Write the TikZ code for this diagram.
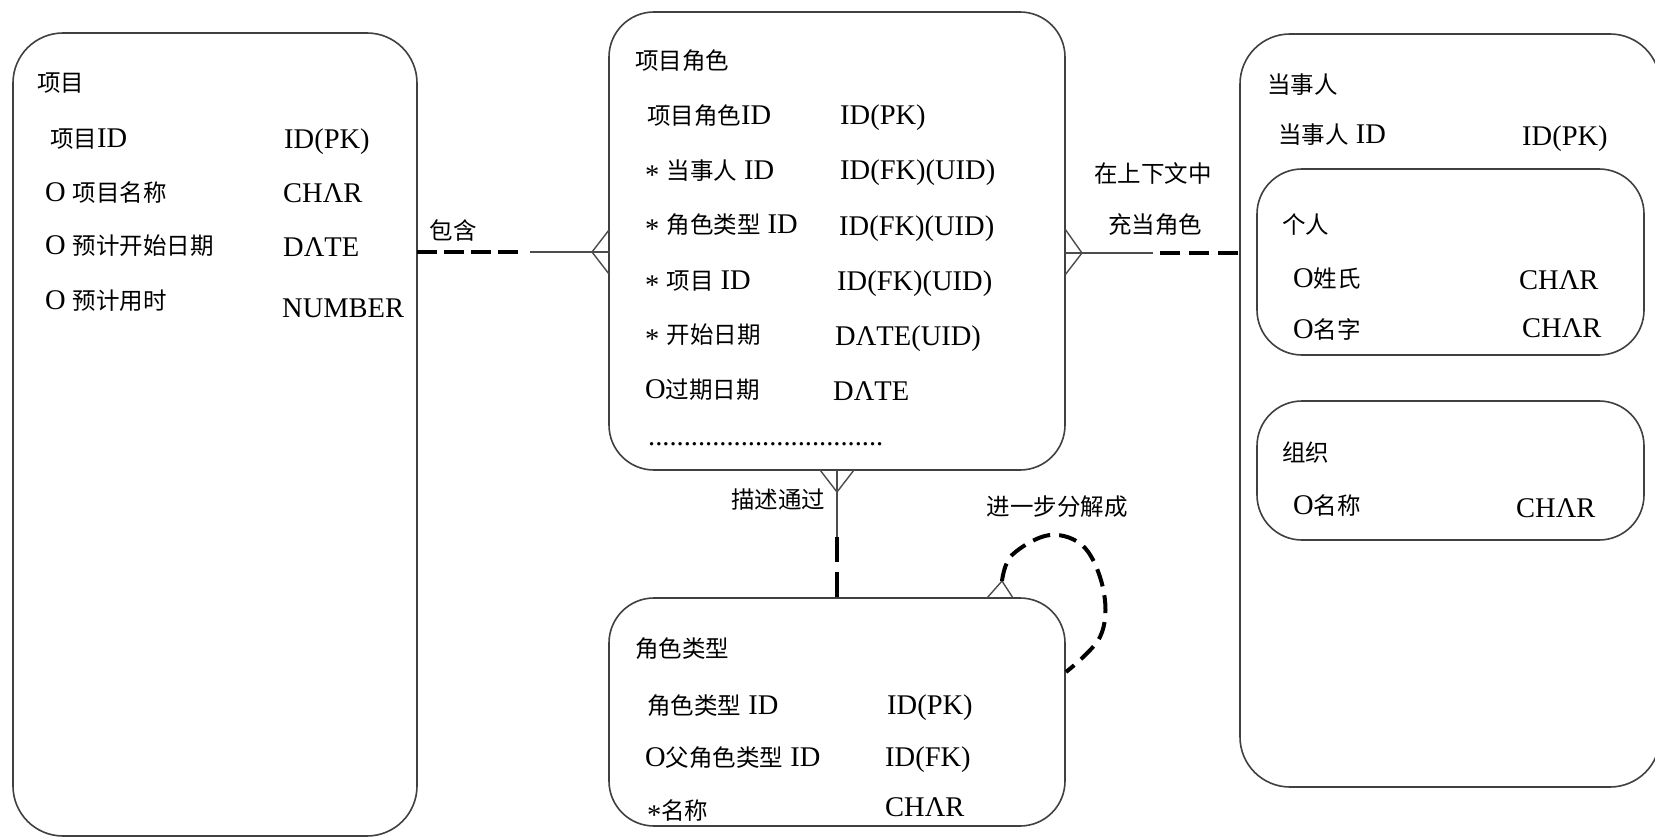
\documentclass[tikz,border=0pt]{standalone}
\usepackage{fontspec}
\setmainfont{Liberation Serif}
\newfontfamily\cjkfont{Noto Sans CJK SC}
\newcommand\C[1]{{\cjkfont\fontsize{23.5pt}{28pt}\selectfont #1}}
\newcommand\lat{\fontsize{28.5pt}{34pt}\selectfont}
\newcommand\myast{\raisebox{-5pt}{*}}
\begin{document}
\begin{tikzpicture}[x=1pt,y=-1pt,
  ent/.style={draw=black!75, line width=1.6pt, rounded corners=45pt, anchor=north west, inner sep=0pt, outer sep=0pt},
  t/.style={anchor=base west, inner sep=0pt, font=\lat},
  lbl/.style={inner sep=0pt, font=\lat},
  thinln/.style={draw=black!70, line width=1.4pt},
  dashln/.style={draw=black, line width=4pt, dash pattern=on 20pt off 7pt},
]
\fill[white] (0,0) rectangle (1655,837);
\useasboundingbox (0,0) rectangle (1655,837);

% entity boxes
\node[ent, rounded corners=50pt, minimum width=404pt, minimum height=803pt] (proj) at (13,33) {};
\node[ent, minimum width=456pt, minimum height=458pt] (role) at (609,12) {};
\node[ent, minimum width=456pt, minimum height=228pt] (roletype) at (609,598) {};
\node[ent, rounded corners=50pt, minimum width=420pt, minimum height=753pt] (party) at (1240,34) {};
\node[ent, minimum width=387pt, minimum height=186pt] (person) at (1257,169) {};
\node[ent, minimum width=387pt, minimum height=139pt] (org) at (1257,401) {};

% 项目
\node[t] (p0) at (37,91.5) {\C{项目}};
\node[t] (p1) at (50,147.5) {\C{项目}ID};
\node[t] (p1t) at (284,149) {ID(PK)};
\node[t] (p2) at (45,201.5) {O \C{项目名称}};
\node[t] (p2t) at (283,202.5) {CHΛR};
\node[t] (p3) at (45,254.5) {O \C{预计开始日期}};
\node[t] (p3t) at (283,256.5) {DΛTE};
\node[t] (p4) at (45,309.5) {O \C{预计用时}};
\node[t] (p4t) at (282,317.5) {NUMBER};

% 项目角色
\node[t] (r0) at (635,69.5) {\C{项目角色}};
\node[t] (r1) at (647,124.5) {\C{项目角色}ID};
\node[t] (r1t) at (840,124.5) {ID(PK)};
\node[t] (r2) at (645,179.5) {\myast{} \C{当事人} ID};
\node[t] (r2t) at (840,179.5) {ID(FK)(UID)};
\node[t] (r3) at (645,233.5) {\myast{} \C{角色类型} ID};
\node[t] (r3t) at (839,235.5) {ID(FK)(UID)};
\node[t] (r4) at (645,289.5) {\myast{} \C{项目} ID};
\node[t] (r4t) at (837,290.5) {ID(FK)(UID)};
\node[t] (r5) at (645,343.5) {\myast{} \C{开始日期}};
\node[t] (r5t) at (835,345.5) {DΛTE(UID)};
\node[t] (r6) at (645,398.5) {O\C{过期日期}};
\node[t] (r6t) at (833,400.5) {DΛTE};
\node[t] (rdots) at (648,445) {.................................};

% 角色类型
\node[t] (k0) at (635,657.5) {\C{角色类型}};
\node[t] (k1) at (647,714.5) {\C{角色类型} ID};
\node[t] (k1t) at (887,714.5) {ID(PK)};
\node[t] (k2) at (645,766.5) {O\C{父角色类型} ID};
\node[t] (k2t) at (885,766.5) {ID(FK)};
\node[t] (k3) at (647,819.5) {\myast\C{名称}};
\node[t] (k3t) at (885,816.5) {CHΛR};

% 当事人
\node[t] (q0) at (1267,93.5) {\C{当事人}};
\node[t] (q1) at (1278,143.5) {\C{当事人} ID};
\node[t] (q1t) at (1522,145.5) {ID(PK)};
\node[t] (s0) at (1282,233.5) {\C{个人}};
\node[t] (s1) at (1293,287.5) {O\C{姓氏}};
\node[t] (s1t) at (1519,289.5) {CHΛR};
\node[t] (s2) at (1293,338.5) {O\C{名字}};
\node[t] (s2t) at (1522,337.5) {CHΛR};
\node[t] (o0) at (1282,461.5) {\C{组织}};
\node[t] (o1) at (1293,514.5) {O\C{名称}};
\node[t] (o1t) at (1516,517.5) {CHΛR};

% connector labels
\node[lbl] (l1) at (453,230) {\C{包含}};
\node[lbl] (l2a) at (1153,173) {\C{在上下文中}};
\node[lbl] (l2b) at (1155,225) {\C{充当角色}};
\node[lbl] (l3) at (778,500) {\C{描述通过}};
\node[lbl] (l4) at (1057,507) {\C{进一步分解成}};

% connector 1: 项目 -- 项目角色
\coordinate (y1) at (0,252);
\draw[dashln] (proj.east |- y1) -- ++(103,0);
\draw[thinln] (proj.east |- y1) ++(113,0) -- (role.west |- y1);
\draw[thinln] (role.west |- y1) ++(0,-22) -- ++(-17,22) -- ++(17,22);

% connector 2: 项目角色 -- 当事人
\coordinate (y2) at (0,253);
\draw[thinln] (role.east |- y2) -- ++(88,0);
\draw[dashln, dash pattern=on 20pt off 9pt] (party.west |- y2) ++(-80,0) -- (party.west |- y2);
\draw[thinln] (role.east |- y2) ++(0,-24) -- ++(17,24) -- ++(-17,22);

% connector 3: 项目角色 -- 角色类型
\coordinate (x3) at (837,0);
\draw[thinln] (role.south -| x3) -- ++(0,67);
\draw[dashln, dash pattern=on 25pt off 10pt] (role.south -| x3) ++(0,67) -- (roletype.north -| x3);
\draw[thinln] (role.south -| x3) ++(-17,0) -- ++(17,22) -- ++(17,-22);

% connector 4: self loop on 角色类型
\coordinate (x4) at (1000,0);
\draw[thinln] (roletype.north -| x4) ++(-13,0) -- ++(15,-17) -- ++(11,17);
\draw[dashln, dash pattern=on 18pt off 9pt] plot[smooth, tension=0.6] coordinates {(1002,581) (1012,555) (1050,535) (1085,548) (1104,593) (1100,637) (1066,672)};
\end{tikzpicture}
\end{document}
